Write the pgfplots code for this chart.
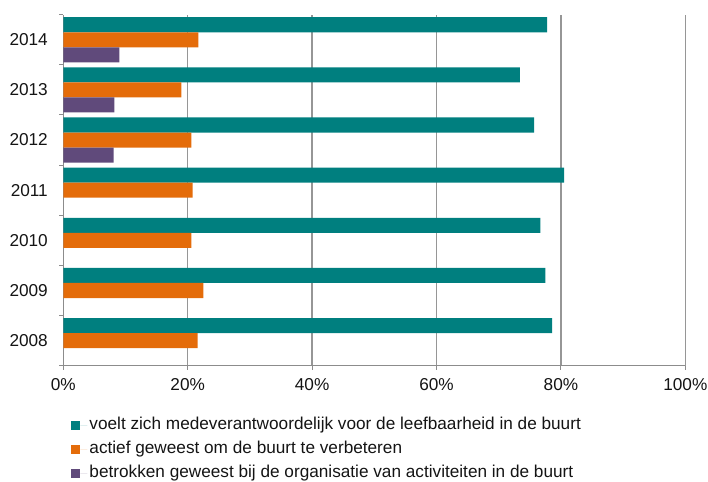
\documentclass[border=0pt]{standalone}
\usepackage{fontspec}
\setmainfont{Liberation Sans}
\usepackage{pgfplots}
\pgfplotsset{compat=1.18}
\definecolor{tealbar}{RGB}{0,127,127}
\definecolor{orangebar}{RGB}{228,108,10}
\definecolor{purplebar}{RGB}{96,74,123}
\definecolor{gridgray}{RGB}{150,150,150}
\definecolor{axisgray}{RGB}{140,140,140}
\definecolor{txt}{RGB}{20,20,20}

\begin{document}
\begin{tikzpicture}
\begin{axis}[
  name=ax,
  scale only axis,
  width=622pt, height=351pt,
  xmin=0, xmax=100,
  ymin=-0.5, ymax=6.5,
  xbar, bar width=0.3,
  axis lines*=left,
  axis line style={axisgray, line width=1pt},
  xtick={0,20,...,100},
  xticklabels={0\%,20\%,40\%,60\%,80\%,100\%},
  ytick={-0.5,0.5,...,6.5},
  y tick label as interval,
  yticklabels={2008,2009,2010,2011,2012,2013,2014},
  tick align=outside,
  major tick length=4pt,
  tick style={axisgray, line width=1pt},
  xmajorgrids,
  major grid style={gridgray, line width=1.3pt},
  tick label style={font=\fontsize{17.2}{20}\selectfont, text=txt},
  xticklabel style={yshift=-5pt},
  yticklabel style={xshift=-8pt},
  legend style={
    draw=none, fill=none,
    at={(0.008,-0.135)}, anchor=north west,
    font=\fontsize{17.2}{20}\selectfont, text=txt,
    row sep=4pt,
    nodes={inner sep=2pt, text height=12.5pt, text depth=3.5pt},
  },
  legend cell align=left,
  legend image code/.code={
    \draw[#1, draw=none] (0pt,-4.5pt) rectangle (9pt,4.5pt);
    \path (9pt,0pt) -- (16pt,0pt);},
]
% voelt zich medeverantwoordelijk
\addplot[fill=tealbar, draw=none, bar shift=0.3] coordinates {
  (78.6,0) (77.5,1) (76.7,2) (80.5,3) (75.7,4) (73.4,5) (77.8,6)};
% actief geweest
\addplot[fill=orangebar, draw=none, bar shift=0] coordinates {
  (21.6,0) (22.5,1) (20.6,2) (20.8,3) (20.6,4) (19.0,5) (21.7,6)};
% betrokken bij organisatie
\addplot[fill=purplebar, draw=none, bar shift=-0.3] coordinates {
  (8.1,4) (8.2,5) (9.0,6)};
\legend{voelt zich medeverantwoordelijk voor de leefbaarheid in de buurt,
  actief geweest om de buurt te verbeteren,
  betrokken geweest bij de organisatie van activiteiten in de buurt}
\end{axis}
\pgfresetboundingbox
\path[use as bounding box] ([shift={(-63.3pt,-115.3pt)}]ax.south west)
  rectangle ([shift={(644.7pt,365.7pt)}]ax.south west);
\end{tikzpicture}
\end{document}
